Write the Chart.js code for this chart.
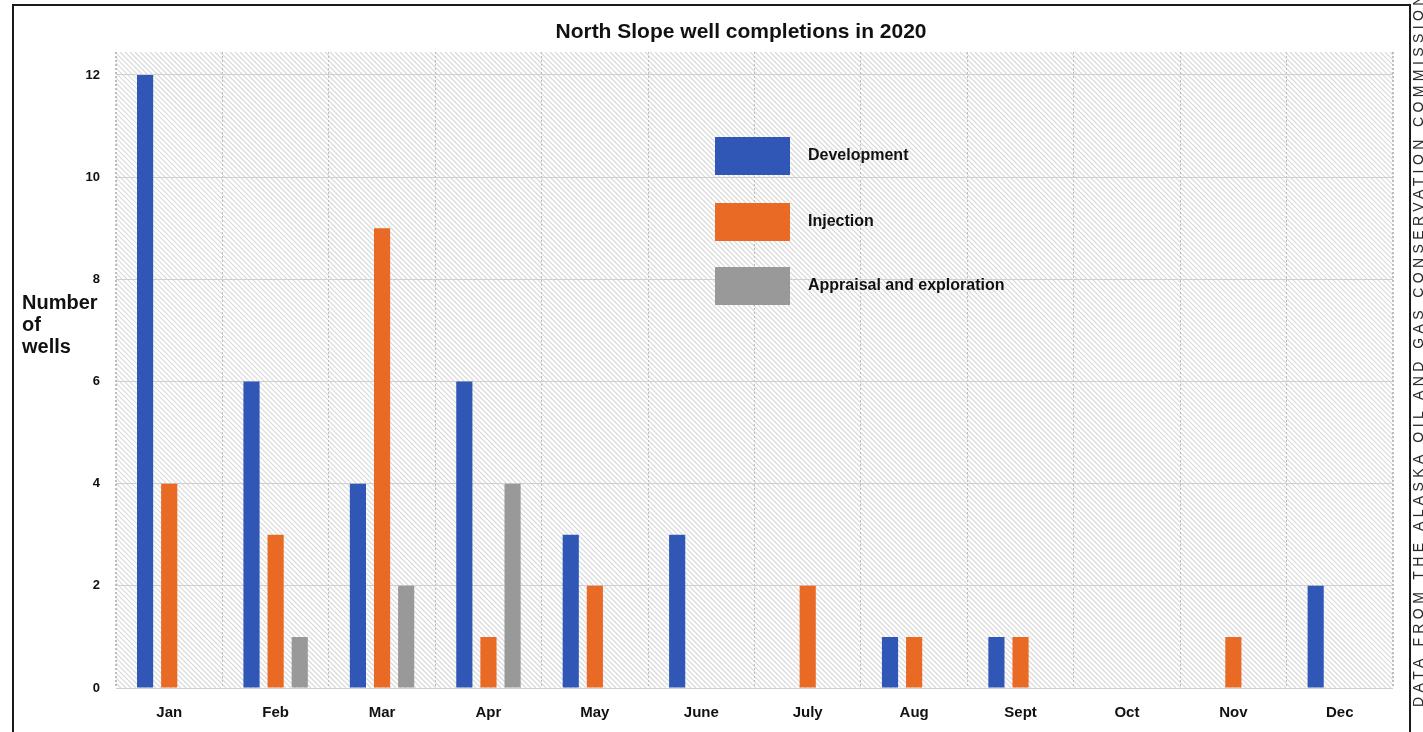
<!DOCTYPE html>
<html>
<head>
<meta charset="utf-8">
<script src="https://cdn.jsdelivr.net/npm/chart.js@4.4.1/dist/chart.umd.min.js"></script>
<style>
  html, body { margin: 0; padding: 0; background: #fff; }
  #wrap { position: relative; width: 1423px; height: 732px; overflow: hidden; }
  #grafico { position: absolute; left: 0; top: 0; }
  #tituloY {
    position: absolute; left: 22px; top: 291px;
    font: bold 20px "Liberation Sans", Arial, sans-serif; line-height: 22px; color: #111;
  }
  #fonte {
    position: absolute; left: 1411px; top: 707px; white-space: nowrap;
    transform: rotate(-90deg); transform-origin: left top;
    font: 14px "Liberation Sans", Arial, sans-serif; line-height: 14px;
    letter-spacing: 4.4px; color: #2a2a2a;
  }
</style>
</head>
<body>
<div id="wrap">
  <canvas id="grafico" width="1423" height="732"></canvas>
  <div id="tituloY">Number<br>of<br>wells</div>
  <div id="fonte">DATA FROM THE ALASKA OIL AND GAS CONSERVATION COMMISSION</div>
</div>
<script>
/* --- DADOS --- */
const meses = ['Jan', 'Feb', 'Mar', 'Apr', 'May', 'June', 'July', 'Aug', 'Sept', 'Oct', 'Nov', 'Dec'];
const development = [12, 6, 4, 6, 3, 3, 0, 1, 1, 0, 0, 2];
const injection = [4, 3, 9, 1, 2, 0, 2, 1, 1, 0, 1, 0];
const appraisal = [0, 1, 2, 4, 0, 0, 0, 0, 0, 0, 0, 0];
const ticksY = [0, 2, 4, 6, 8, 10, 12];
const titulo = 'North Slope well completions in 2020';

const fonteNegrito = '"Liberation Sans", Arial, sans-serif';

/* --- FUNDO HACHURADO + MOLDURA + LEGENDA --- */
const pluginFundo = {
    id: 'fundo',
    beforeDraw(chart) {
        const { ctx, chartArea: a } = chart;
        ctx.save();
        ctx.fillStyle = '#ffffff';
        ctx.fillRect(a.left, a.top, a.right - a.left, a.bottom - a.top);
        ctx.beginPath();
        ctx.rect(a.left, a.top, a.right - a.left, a.bottom - a.top);
        ctx.clip();
        ctx.strokeStyle = '#d9d9d9';
        ctx.lineWidth = 1.2;
        const h = a.bottom - a.top;
        for (let x = a.left - h; x < a.right; x += 5) {
            ctx.beginPath();
            ctx.moveTo(x, a.top);
            ctx.lineTo(x + h, a.bottom);
            ctx.stroke();
        }
        ctx.restore();
    },
    afterDraw(chart) {
        const { ctx, chartArea: a } = chart;
        ctx.save();
        // borda pontilhada da area
        ctx.strokeStyle = '#bdbdbd';
        ctx.lineWidth = 1;
        ctx.setLineDash([2, 2]);
        ctx.beginPath();
        ctx.moveTo(a.left + 0.5, a.top); ctx.lineTo(a.left + 0.5, a.bottom);
        ctx.moveTo(a.right - 0.5, a.top); ctx.lineTo(a.right - 0.5, a.bottom);
        ctx.stroke();
        ctx.setLineDash([]);

        // titulo
        ctx.fillStyle = '#111';
        ctx.font = 'bold 21px ' + fonteNegrito;
        ctx.textAlign = 'center';
        ctx.textBaseline = 'middle';
        ctx.fillText(titulo, 741, 32);

        // legenda
        const linhas = [156, 222, 286];
        ctx.font = 'bold 16px ' + fonteNegrito;
        ctx.textAlign = 'left';
        chart.data.datasets.forEach((ds, i) => {
            ctx.fillStyle = ds.backgroundColor;
            ctx.fillRect(715, linhas[i] - 19, 75, 38);
            ctx.fillStyle = '#111';
            ctx.fillText(ds.label, 808, linhas[i]);
        });

        // moldura
        ctx.strokeStyle = '#1a1a1a';
        ctx.lineWidth = 2;
        ctx.beginPath();
        ctx.moveTo(13, 740); ctx.lineTo(13, 5); ctx.lineTo(1410, 5); ctx.lineTo(1410, 740);
        ctx.stroke();
        ctx.restore();
    }
};

new Chart(document.getElementById('grafico'), {
    type: 'bar',
    data: {
        labels: meses,
        datasets: [
            { label: 'Development', data: development, backgroundColor: '#3057b6' },
            { label: 'Injection', data: injection, backgroundColor: '#e96a24' },
            { label: 'Appraisal and exploration', data: appraisal, backgroundColor: '#999999' }
        ]
    },
    options: {
        responsive: false,
        animation: false,
        events: [],
        layout: { padding: { left: 0, right: 30, top: 52, bottom: 0 } },
        datasets: { bar: { categoryPercentage: 0.68, barPercentage: 0.67 } },
        plugins: { legend: { display: false }, title: { display: false }, tooltip: { enabled: false } },
        scales: {
            x: {
                afterFit: s => { s.height = 44; },
                grid: { display: true, offset: true, drawTicks: false, color: '#bdbdbd' },
                border: { display: false, dash: [2, 2] },
                ticks: { padding: 16, color: '#111', font: { family: fonteNegrito, size: 15, weight: 'bold' } }
            },
            y: {
                min: 0, max: 12.45,
                afterFit: s => { s.width = 116; },
                afterBuildTicks: s => { s.ticks = ticksY.map(v => ({ value: v })); },
                grid: { drawTicks: false, color: '#cfcfcf', lineWidth: 1 },
                border: { display: false },
                ticks: { padding: 16, color: '#111', font: { family: fonteNegrito, size: 13, weight: 'bold' } }
            }
        }
    },
    plugins: [pluginFundo]
});
</script>
</body>
</html>
